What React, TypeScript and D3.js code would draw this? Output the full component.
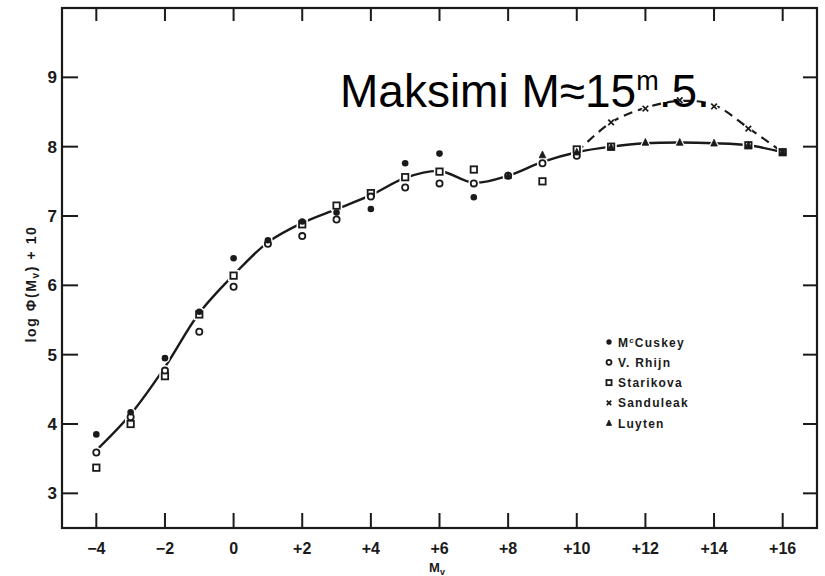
import React from "react";
import * as d3 from "d3";

const W = 825;
const H = 576;

const xTicks = [-4, -2, 0, 2, 4, 6, 8, 10, 12, 14, 16];
const xTickLabels = ["−4", "−2", "0", "+2", "+4", "+6", "+8", "+10", "+12", "+14", "+16"];
const yTicks = [3, 4, 5, 6, 7, 8, 9];

// McCuskey (filled dots)
const mcCuskeyM = [-4, -3, -2, -1, 0, 1, 2, 3, 4, 5, 6, 7];
const mcCuskeyV = [3.85, 4.17, 4.95, 5.62, 6.39, 6.65, 6.92, 7.05, 7.1, 7.76, 7.9, 7.27];
// V. Rhijn (open circles)
const rhijnM = [-4, -3, -2, -1, 0, 1, 2, 3, 4, 5, 6, 7, 8, 9, 10];
const rhijnV = [3.59, 4.1, 4.77, 5.33, 5.98, 6.6, 6.71, 6.95, 7.28, 7.41, 7.47, 7.47, 7.58, 7.76, 7.87];
// Starikova (open squares)
const starikovaM = [-4, -3, -2, -1, 0, 2, 3, 4, 5, 6, 7, 9, 10, 11, 15, 16];
const starikovaV = [3.37, 4.0, 4.69, 5.58, 6.14, 6.88, 7.15, 7.33, 7.56, 7.64, 7.67, 7.5, 7.96, 8.0, 8.02, 7.92];
// Sanduleak (crosses)
const sanduleakM = [11, 12, 13, 14, 15, 16];
const sanduleakV = [8.35, 8.55, 8.67, 8.58, 8.26, 7.92];
// Luyten (triangles)
const luytenM = [8, 9, 10, 11, 12, 13, 14, 15, 16];
const luytenV = [7.58, 7.88, 7.92, 7.99, 8.06, 8.06, 8.05, 8.02, 7.92];

// Fitted solid curve
const curveM = [-4, -3, -2, -1, 0, 1, 2, 3, 4, 5, 6, 7, 8, 9, 10, 11, 12, 13, 14, 15, 16];
const curveV = [3.62, 4.14, 4.82, 5.6, 6.15, 6.62, 6.9, 7.1, 7.3, 7.55, 7.65, 7.48, 7.58, 7.78, 7.92, 8.0, 8.05, 8.06, 8.05, 8.02, 7.92];
// Dashed branch (Sanduleak)
const dashM = [10, 11, 12, 13, 14, 15, 16];
const dashV = [7.92, 8.35, 8.56, 8.66, 8.6, 8.27, 7.92];

const legendNames = ["McCuskey", "V. Rhijn", "Starikova", "Sanduleak", "Luyten"];
const legendKinds = ["dot", "circle", "square", "cross", "triangle"];

const INK = "#1a1a1a";
const FONT = "'Liberation Sans', Arial, Helvetica, sans-serif";

function Marker({ kind, x, y, halo, s = 1 }: { kind: string; x: number; y: number; halo?: boolean; s?: number }) {
  const sw = halo ? 5 : 1.8;
  const stroke = halo ? "white" : INK;
  if (kind === "dot") {
    return <circle cx={x} cy={y} r={3.3 * s} fill={halo ? "white" : INK} stroke={stroke} strokeWidth={halo ? 3 : 0} />;
  }
  if (kind === "circle") {
    return <circle cx={x} cy={y} r={3.1 * s} fill="white" stroke={stroke} strokeWidth={sw} />;
  }
  if (kind === "square") {
    const h = 3.2 * s;
    return <rect x={x - h} y={y - h} width={2 * h} height={2 * h} fill="white" stroke={stroke} strokeWidth={sw} />;
  }
  if (kind === "cross") {
    const h = 2.8 * s;
    return (
      <g stroke={stroke} strokeWidth={halo ? 4 : 1.7}>
        <line x1={x - h} y1={y - h} x2={x + h} y2={y + h} />
        <line x1={x - h} y1={y + h} x2={x + h} y2={y - h} />
      </g>
    );
  }
  // triangle
  return (
    <path
      d={`M${x},${y - 4 * s}L${x + 3.3 * s},${y + 2.8 * s}L${x - 3.3 * s},${y + 2.8 * s}Z`}
      fill={halo ? "white" : INK}
      stroke={stroke}
      strokeWidth={halo ? 3 : 0.8}
    />
  );
}

export default function App() {
  const x = d3.scaleLinear().domain([-5, 17]).range([62, 817]);
  const y = d3.scaleLinear().domain([2.5, 10]).range([528, 8]);

  const line = d3
    .line<number>()
    .x((_, i) => x(curveM[i]))
    .y((v) => y(v))
    .curve(d3.curveCatmullRom.alpha(0.5));
  const dashLine = d3
    .line<number>()
    .x((_, i) => x(dashM[i]))
    .y((v) => y(v))
    .curve(d3.curveCatmullRom.alpha(0.5));

  const series: { kind: string; m: number[]; v: number[] }[] = [
    { kind: "square", m: starikovaM, v: starikovaV },
    { kind: "circle", m: rhijnM, v: rhijnV },
    { kind: "dot", m: mcCuskeyM, v: mcCuskeyV },
    { kind: "cross", m: sanduleakM, v: sanduleakV },
    { kind: "triangle", m: luytenM, v: luytenV },
  ];

  const [x0, x1] = x.range();
  const [y0, y1] = y.range();

  return (
    <svg
      width={W}
      height={H}
      style={{ position: "absolute", left: 0, top: 0, background: "white" }}
      fontFamily={FONT}
    >
      <rect x={0} y={0} width={W} height={H} fill="white" />

      {/* curves */}
      <path d={line(curveV) || ""} fill="none" stroke={INK} strokeWidth={2.4} />
      <path d={dashLine(dashV) || ""} fill="none" stroke={INK} strokeWidth={2.2} strokeDasharray="9,6" />

      {/* marker halos then markers */}
      {series.map((s) =>
        s.m.map((m, i) => <Marker key={`h-${s.kind}-${i}`} kind={s.kind} x={x(m)} y={y(s.v[i])} halo />)
      )}
      {series.map((s) =>
        s.m.map((m, i) => <Marker key={`m-${s.kind}-${i}`} kind={s.kind} x={x(m)} y={y(s.v[i])} />)
      )}

      {/* frame */}
      <rect x={x0} y={y1} width={x1 - x0} height={y0 - y1} fill="none" stroke={INK} strokeWidth={2.2} />

      {/* x ticks */}
      {xTicks.map((t, i) => (
        <g key={`xt-${t}`}>
          <line x1={x(t)} x2={x(t)} y1={y0} y2={y0 - 15} stroke={INK} strokeWidth={2} />
          <line x1={x(t)} x2={x(t)} y1={y1} y2={y1 + 13} stroke={INK} strokeWidth={2} />
          <text x={x(t)} y={554} textAnchor="middle" fontSize={16} fontWeight="bold" fill={INK}>
            {xTickLabels[i]}
          </text>
        </g>
      ))}

      {/* y ticks */}
      {yTicks.map((t) => (
        <g key={`yt-${t}`}>
          <line x1={x0} x2={x0 + 16} y1={y(t)} y2={y(t)} stroke={INK} strokeWidth={2} />
          <line x1={x1} x2={x1 - 14} y1={y(t)} y2={y(t)} stroke={INK} strokeWidth={2} />
          <text x={57} y={y(t) + 6} textAnchor="end" fontSize={17} fontWeight="bold" fill={INK}>
            {t}
          </text>
        </g>
      ))}

      {/* axis labels */}
      <text x={437} y={572} textAnchor="middle" fontSize={13} fontWeight="bold" fill={INK}>
        M<tspan fontSize={9} dy={3}>v</tspan>
      </text>
      <text
        transform={`translate(36,284) rotate(-90)`}
        textAnchor="middle"
        fontSize={14}
        fontWeight="bold"
        letterSpacing={1.6}
        fill={INK}
      >
        log Φ(M<tspan fontSize={10} dy={3}>v</tspan>
        <tspan dy={-3}>) + 10</tspan>
      </text>

      {/* legend */}
      {legendNames.map((name, i) => {
        const ly = 342 + i * 20.3;
        return (
          <g key={`lg-${name}`}>
            <Marker kind={legendKinds[i]} x={609} y={ly} s={0.8} />
            <text x={618} y={ly + 4.5} fontSize={12} fontWeight="bold" letterSpacing={1.2} fill={INK}>
              {i === 0 ? (
                <>
                  M<tspan fontSize={8} dy={-4}>c</tspan>
                  <tspan dy={4}>Cuskey</tspan>
                </>
              ) : (
                name
              )}
            </text>
          </g>
        );
      })}

      {/* annotation */}
      <text x={340} y={107} fontSize={46} fill="black" fontFamily={FONT}>
        Maksimi M≈15<tspan fontSize={27} dy={-17}>m</tspan>
        <tspan dy={17}>.5.</tspan>
      </text>
    </svg>
  );
}
